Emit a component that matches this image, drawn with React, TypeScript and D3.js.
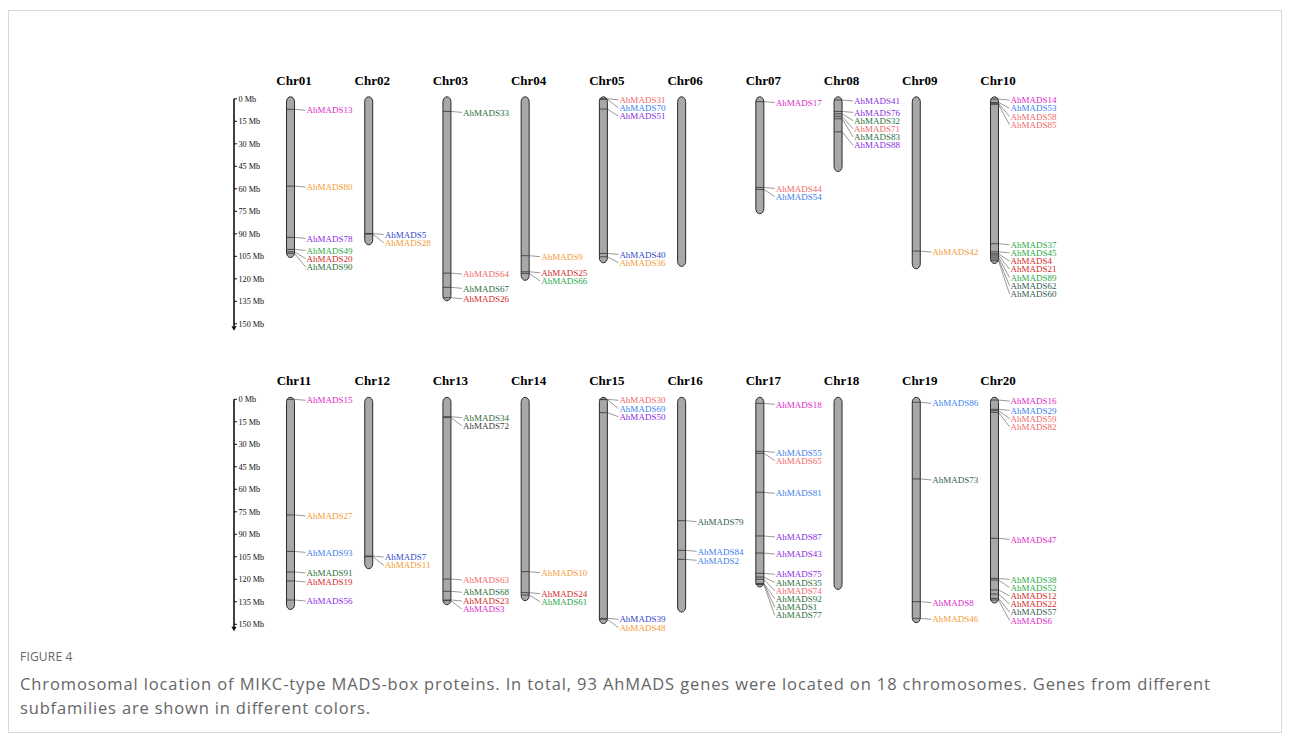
import React from "react";
import * as d3 from "d3";

// Chromosome names and lengths (Mb)
const chromNames = [
  "Chr01", "Chr02", "Chr03", "Chr04", "Chr05", "Chr06", "Chr07", "Chr08", "Chr09", "Chr10",
  "Chr11", "Chr12", "Chr13", "Chr14", "Chr15", "Chr16", "Chr17", "Chr18", "Chr19", "Chr20",
];
const chromLengths = [
  104.5, 96, 133.3, 119.7, 108, 110.4, 75.3, 47.1, 112, 108.5,
  138.8, 111.6, 135.6, 132.9, 148.2, 140.5, 123.8, 125.4, 147.6, 134.5,
];

// Scale ruler
const tickValues = [0, 15, 30, 45, 60, 75, 90, 105, 120, 135, 150];
const tickLabels = tickValues.map((v) => `${v} Mb`);

// Gene name, chromosome, position (Mb), subfamily
const genes: [string, string, number, string][] = [
  ["AhMADS13", "Chr01", 7, "M"],
  ["AhMADS80", "Chr01", 58.2, "O"],
  ["AhMADS78", "Chr01", 92.4, "P"],
  ["AhMADS49", "Chr01", 100.4, "G"],
  ["AhMADS20", "Chr01", 102, "R"],
  ["AhMADS90", "Chr01", 103, "D"],
  ["AhMADS5", "Chr02", 89.8, "B"],
  ["AhMADS28", "Chr02", 90.2, "O"],
  ["AhMADS33", "Chr03", 8.4, "D"],
  ["AhMADS64", "Chr03", 116.2, "L"],
  ["AhMADS67", "Chr03", 125.7, "D"],
  ["AhMADS26", "Chr03", 132.6, "R"],
  ["AhMADS9", "Chr04", 104.6, "O"],
  ["AhMADS25", "Chr04", 115.3, "R"],
  ["AhMADS66", "Chr04", 116.4, "G"],
  ["AhMADS31", "Chr05", 0, "L"],
  ["AhMADS70", "Chr05", 0.3, "C"],
  ["AhMADS51", "Chr05", 6.8, "P"],
  ["AhMADS40", "Chr05", 103.1, "B"],
  ["AhMADS36", "Chr05", 105.3, "O"],
  ["AhMADS17", "Chr07", 1.9, "M"],
  ["AhMADS44", "Chr07", 59.1, "L"],
  ["AhMADS54", "Chr07", 60.4, "C"],
  ["AhMADS41", "Chr08", 0.8, "P"],
  ["AhMADS76", "Chr08", 8.4, "P"],
  ["AhMADS32", "Chr08", 10, "D"],
  ["AhMADS71", "Chr08", 11.7, "L"],
  ["AhMADS83", "Chr08", 13.3, "D"],
  ["AhMADS88", "Chr08", 22, "P"],
  ["AhMADS42", "Chr09", 101.5, "O"],
  ["AhMADS14", "Chr10", 0.2, "M"],
  ["AhMADS53", "Chr10", 2.4, "C"],
  ["AhMADS58", "Chr10", 3, "L"],
  ["AhMADS85", "Chr10", 3.7, "L"],
  ["AhMADS37", "Chr10", 96.6, "G"],
  ["AhMADS45", "Chr10", 102, "G"],
  ["AhMADS4", "Chr10", 103.3, "R"],
  ["AhMADS21", "Chr10", 104.2, "R"],
  ["AhMADS89", "Chr10", 105.5, "G"],
  ["AhMADS62", "Chr10", 106.8, "S"],
  ["AhMADS60", "Chr10", 108, "S"],
  ["AhMADS15", "Chr11", 0, "M"],
  ["AhMADS27", "Chr11", 77.1, "O"],
  ["AhMADS93", "Chr11", 101.4, "C"],
  ["AhMADS91", "Chr11", 115.1, "D"],
  ["AhMADS19", "Chr11", 121.1, "R"],
  ["AhMADS56", "Chr11", 133.8, "P"],
  ["AhMADS7", "Chr12", 104.5, "B"],
  ["AhMADS11", "Chr12", 104.9, "O"],
  ["AhMADS34", "Chr13", 11.6, "D"],
  ["AhMADS72", "Chr13", 12.2, "K"],
  ["AhMADS63", "Chr13", 119.8, "L"],
  ["AhMADS68", "Chr13", 128, "D"],
  ["AhMADS23", "Chr13", 133.8, "R"],
  ["AhMADS3", "Chr13", 134.3, "M"],
  ["AhMADS10", "Chr14", 114.9, "O"],
  ["AhMADS24", "Chr14", 128.9, "R"],
  ["AhMADS61", "Chr14", 130.5, "G"],
  ["AhMADS30", "Chr15", 0, "L"],
  ["AhMADS69", "Chr15", 0.2, "C"],
  ["AhMADS50", "Chr15", 8.9, "P"],
  ["AhMADS39", "Chr15", 146, "B"],
  ["AhMADS48", "Chr15", 146.7, "O"],
  ["AhMADS79", "Chr16", 80.9, "S"],
  ["AhMADS84", "Chr16", 100.7, "C"],
  ["AhMADS2", "Chr16", 106.7, "C"],
  ["AhMADS18", "Chr17", 2.7, "M"],
  ["AhMADS55", "Chr17", 34.7, "C"],
  ["AhMADS65", "Chr17", 36, "L"],
  ["AhMADS81", "Chr17", 62, "C"],
  ["AhMADS87", "Chr17", 91.1, "P"],
  ["AhMADS43", "Chr17", 102.5, "P"],
  ["AhMADS75", "Chr17", 116, "P"],
  ["AhMADS35", "Chr17", 118.5, "D"],
  ["AhMADS74", "Chr17", 120, "L"],
  ["AhMADS92", "Chr17", 122.7, "D"],
  ["AhMADS1", "Chr17", 123.1, "D"],
  ["AhMADS77", "Chr17", 123.5, "D"],
  ["AhMADS86", "Chr19", 2, "C"],
  ["AhMADS73", "Chr19", 53.1, "S"],
  ["AhMADS8", "Chr19", 134.9, "M"],
  ["AhMADS46", "Chr19", 146, "O"],
  ["AhMADS16", "Chr20", 0.5, "M"],
  ["AhMADS29", "Chr20", 6.7, "C"],
  ["AhMADS59", "Chr20", 7.6, "L"],
  ["AhMADS82", "Chr20", 8.7, "L"],
  ["AhMADS47", "Chr20", 92.7, "M"],
  ["AhMADS38", "Chr20", 119.4, "G"],
  ["AhMADS52", "Chr20", 120.5, "G"],
  ["AhMADS12", "Chr20", 127.1, "R"],
  ["AhMADS22", "Chr20", 129.8, "R"],
  ["AhMADS57", "Chr20", 132.7, "S"],
  ["AhMADS6", "Chr20", 133.8, "M"],
];

const subfamilyColors: Record<string, string> = {
  M: "#dc28c8",
  O: "#f39a36",
  P: "#8a2be2",
  G: "#27a848",
  R: "#d42828",
  D: "#2a6e3a",
  S: "#2f5d50",
  K: "#3a3a3a",
  L: "#f26868",
  B: "#2f48c8",
  C: "#3d80ee",
};

const captionTitle = "FIGURE 4";
const captionLines = [
  "Chromosomal location of MIKC-type MADS-box proteins. In total, 93 AhMADS genes were located on 18 chromosomes. Genes from different",
  "subfamilies are shown in different colors.",
];

const W = 1290;
const H = 742;
const PANEL_TOPS = [98.8, 399.3];
const PX_PER_MB = 1.5;
const HALF_W = 4;
const LABEL_GAP = 8.2;
const SERIF = "'Liberation Serif', 'Times New Roman', serif";
const CAPTION_WIDTHS = [1190, 350];

type Placed = { name: string; pos: number; group: string; my: number; ly: number };

function Panel({ row }: { row: number }) {
  const top = PANEL_TOPS[row];
  const y = d3.scaleLinear().domain([0, 150]).range([top, top + 150 * PX_PER_MB]);
  const cols = d3.range(10);
  const x = d3.scaleLinear().domain([0, 9]).range([290.5, 994.5]);
  const names = chromNames.slice(row * 10, row * 10 + 10);
  const axisX = 234;
  const axisEnd = y(150);

  return (
    <g>
      {/* scale ruler */}
      <line x1={axisX} x2={axisX} y1={y(0)} y2={axisEnd + 3} stroke="#111" strokeWidth={1.6} />
      <path
        d={`M${axisX - 2.6},${axisEnd + 2.5} L${axisX + 2.6},${axisEnd + 2.5} L${axisX},${axisEnd + 7} Z`}
        fill="#111"
      />
      {tickValues.map((v, i) => (
        <g key={v}>
          <line x1={axisX} x2={axisX + 3} y1={y(v)} y2={y(v)} stroke="#111" strokeWidth={1} />
          <text x={axisX + 4.5} y={y(v)} dy="0.35em" fontFamily={SERIF} fontSize={8.2} fill="#111">
            {tickLabels[i]}
          </text>
        </g>
      ))}

      {cols.map((c) => {
        const name = names[c];
        const len = chromLengths[row * 10 + c];
        const cx = x(c);
        const list = genes
          .filter((g) => g[1] === name)
          .map((g) => ({ name: g[0], pos: g[2], group: g[3] }))
          .sort((a, b) => a.pos - b.pos);
        // stack labels downward so they never overlap
        const placed: Placed[] = [];
        let prev = -Infinity;
        for (const g of list) {
          const my = y(g.pos);
          const ly = Math.max(my, prev + LABEL_GAP);
          prev = ly;
          placed.push({ ...g, my, ly: ly + 1 });
        }
        return (
          <g key={name}>
            <text
              x={cx + 3.5}
              y={top - 14.3}
              textAnchor="middle"
              fontFamily={SERIF}
              fontWeight="bold"
              fontSize={13}
              fill="#000"
            >
              {name}
            </text>
            <rect
              x={cx - HALF_W}
              y={y(0) - 2}
              width={HALF_W * 2}
              height={y(len) - y(0) + 4}
              rx={HALF_W}
              ry={5}
              fill="#a8a8a8"
              stroke="#2a2a2a"
              strokeWidth={1}
            />
            {placed.map((g) => (
              <g key={g.name}>
                <line
                  x1={cx - HALF_W}
                  x2={cx + HALF_W}
                  y1={g.my}
                  y2={g.my}
                  stroke="#333"
                  strokeWidth={0.8}
                />
                <line
                  x1={cx + HALF_W}
                  x2={cx + 15}
                  y1={g.my}
                  y2={g.ly}
                  stroke="#555"
                  strokeWidth={0.6}
                />
                <text
                  x={cx + 16}
                  y={g.ly}
                  dy="0.35em"
                  fontFamily={SERIF}
                  fontSize={9}
                  fill={subfamilyColors[g.group]}
                >
                  {g.name}
                </text>
              </g>
            ))}
          </g>
        );
      })}
    </g>
  );
}

export default function App() {
  return (
    <div style={{ position: "absolute", left: 0, top: 0, width: W, height: H, background: "#fff" }}>
      <svg width={W} height={H} style={{ display: "block" }}>
        <rect x={0} y={0} width={W} height={H} fill="#fff" />
        <rect x={8.5} y={10.5} width={1273} height={722} fill="none" stroke="#d9d9d9" strokeWidth={1} />
        <Panel row={0} />
        <Panel row={1} />
        <text x={20} y={661} fontFamily="'Open Sans', sans-serif" fontSize={12} fill="#666" letterSpacing={0.2}>
          {captionTitle}
        </text>
        {captionLines.map((t, i) => (
          <text
            key={i}
            x={20}
            y={690 + i * 24}
            fontFamily="'Open Sans', sans-serif"
            fontSize={16.5}
            fill="#666"
            textLength={CAPTION_WIDTHS[i]}
            lengthAdjust="spacing"
          >
            {t}
          </text>
        ))}
      </svg>
    </div>
  );
}
